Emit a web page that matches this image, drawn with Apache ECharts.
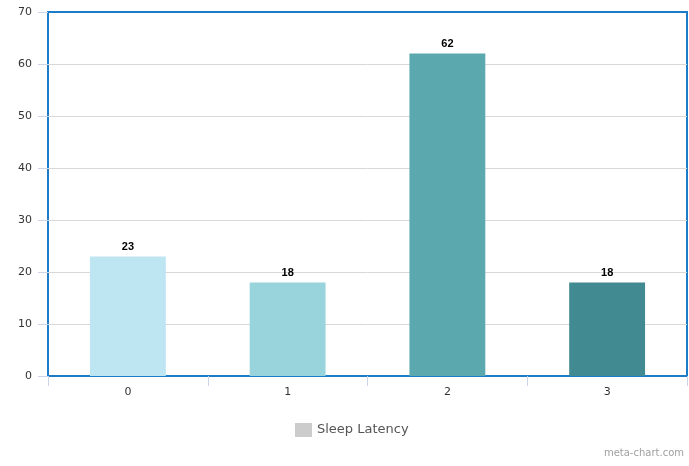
<!DOCTYPE html>
<html>
<head>
<meta charset="utf-8">
<style>
  html, body { margin: 0; padding: 0; background: #ffffff; }
  #chart { width: 689px; height: 466px; position: relative; }
  #credit { position: absolute; right: 5px; bottom: 8px; font: 10px "DejaVu Sans", sans-serif; color: #a0a0a0; }
</style>
<script src="https://cdn.jsdelivr.net/npm/echarts@6/dist/echarts.min.js"></script>
</head>
<body>
<div id="chart"></div>
<script>
// Sleep latency by group
const categories = ['0', '1', '2', '3'];
const sleepLatency = [23, 18, 62, 18];
const barColors = ['#bde5f2', '#99d4dd', '#5ba8ae', '#428a92'];
const seriesName = 'Sleep Latency';

const chart = echarts.init(document.getElementById('chart'), null, { renderer: 'canvas' });

chart.setOption({
  animation: false,
  grid: {
    left: 48, top: 12, right: 2, bottom: 90,
    show: true,
    borderColor: '#1b7cc8',
    borderWidth: 2,
    backgroundColor: 'transparent'
  },
  legend: {
    bottom: 24,
    left: 290,
    itemWidth: 17,
    itemHeight: 14,
    itemGap: 6,
    icon: 'rect',
    data: [{ name: seriesName, itemStyle: { color: '#cccccc' } }],
    textStyle: { fontFamily: 'DejaVu Sans', fontSize: 13, color: '#555555' }
  },
  xAxis: {
    type: 'category',
    data: categories,
    axisLine: { show: false },
    axisTick: { show: true, length: 10, lineStyle: { color: '#ccd6eb' } },
    axisLabel: { color: '#333333', fontFamily: 'DejaVu Sans', fontSize: 11, margin: 11 }
  },
  yAxis: {
    type: 'value',
    min: 0, max: 70, interval: 10,
    axisLine: { show: false },
    axisTick: { show: true, length: 10, lineStyle: { color: '#ccd6eb' } },
    splitLine: { show: true, showMinLine: false, showMaxLine: false, lineStyle: { color: '#d8d8d8', width: 1 } },
    axisLabel: { color: '#333333', fontFamily: 'DejaVu Sans', fontSize: 11, margin: 16 }
  },
  series: [{
    name: seriesName,
    type: 'bar',
    barWidth: '47.5%',
    data: sleepLatency.map((v, i) => ({ value: v, itemStyle: { color: barColors[i] } })),
    label: {
      show: true,
      position: 'top',
      distance: 4,
      color: '#000000',
      fontWeight: 'bold',
      fontFamily: 'Liberation Sans',
      fontSize: 11
    }
  }]
});
</script>
<div id="credit">meta-chart.com</div>
</body>
</html>
